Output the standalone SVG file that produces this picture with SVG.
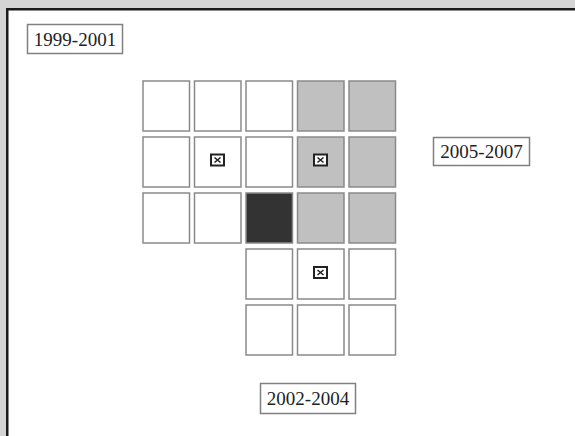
<svg xmlns="http://www.w3.org/2000/svg" width="575" height="436" viewBox="0 0 575 436">
<style>
.cell{stroke:#8a8a8a;stroke-width:1.5;fill:#fff}
.g{fill:#c0c0c0}
.d{fill:#333}
.lab rect{fill:#fff;stroke:#808080;stroke-width:1.5}
.lab text{font-family:"Liberation Serif",serif;font-size:19px;fill:#222;text-anchor:middle}
.ic rect{fill:#fff;stroke:#222;stroke-width:2}
.ic path{stroke:#222;stroke-width:1.6;fill:none}
</style>
<defs>
<g id="icon" class="ic"><rect x="-6.5" y="-5.5" width="13" height="11"/><path d="M-3,-2.5L3,2.5M3,-2.5L-3,2.5"/></g>
</defs>
<rect width="575" height="436" fill="#d4d4d4"/>
<rect x="7.25" y="9.25" width="580" height="440" fill="#fff" stroke="#1a1a1a" stroke-width="2.5"/>
<g id="grid">
<g id="r1">
<rect class="cell" x="143" y="81" width="46.5" height="50"/>
<rect class="cell" x="194.5" y="81" width="46.5" height="50"/>
<rect class="cell" x="246" y="81" width="46.5" height="50"/>
<rect class="cell g" x="297.5" y="81" width="46.5" height="50"/>
<rect class="cell g" x="349" y="81" width="46.5" height="50"/>
</g>
<g id="r2">
<rect class="cell" x="143" y="137" width="46.5" height="50"/>
<rect class="cell" x="194.5" y="137" width="46.5" height="50"/>
<rect class="cell" x="246" y="137" width="46.5" height="50"/>
<rect class="cell g" x="297.5" y="137" width="46.5" height="50"/>
<rect class="cell g" x="349" y="137" width="46.5" height="50"/>
<use href="#icon" x="217.5" y="160"/>
<use href="#icon" x="320.5" y="160"/>
</g>
<g id="r3">
<rect class="cell" x="143" y="193" width="46.5" height="50"/>
<rect class="cell" x="194.5" y="193" width="46.5" height="50"/>
<rect class="cell d" x="246" y="193" width="46.5" height="50"/>
<rect class="cell g" x="297.5" y="193" width="46.5" height="50"/>
<rect class="cell g" x="349" y="193" width="46.5" height="50"/>
</g>
<g id="r4">
<rect class="cell" x="246" y="249" width="46.5" height="50"/>
<rect class="cell" x="297.5" y="249" width="46.5" height="50"/>
<rect class="cell" x="349" y="249" width="46.5" height="50"/>
<use href="#icon" x="320.5" y="272.5"/>
</g>
<g id="r5">
<rect class="cell" x="246" y="305" width="46.5" height="50"/>
<rect class="cell" x="297.5" y="305" width="46.5" height="50"/>
<rect class="cell" x="349" y="305" width="46.5" height="50"/>
</g>
</g>
<g id="label-1999" class="lab"><rect x="27.5" y="24.5" width="95" height="29"/><text x="75" y="45.5">1999-2001</text></g>
<g id="label-2005" class="lab"><rect x="433.5" y="137.5" width="96" height="28"/><text x="481.5" y="158">2005-2007</text></g>
<g id="label-2002" class="lab"><rect x="260.5" y="383.5" width="95" height="30"/><text x="308" y="405">2002-2004</text></g>
<g id="connectors"/>
</svg>
